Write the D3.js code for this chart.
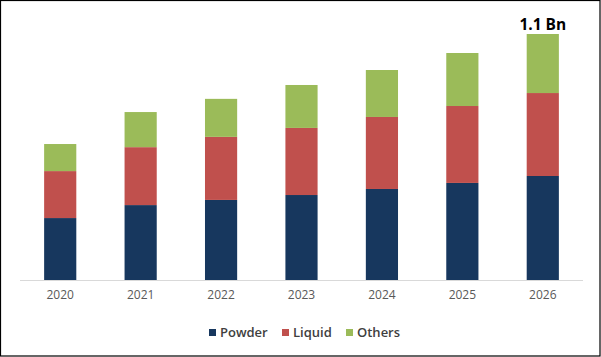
<!DOCTYPE html>
<html><head><meta charset="utf-8">
<script src="https://cdn.jsdelivr.net/npm/d3@7"></script>
<style>html,body{margin:0;padding:0;background:#fff;}svg{display:block;}</style>
</head><body>
<script>
const years = ["2020","2021","2022","2023","2024","2025","2026"];
const seriesNames = ["Powder","Liquid","Others"];
const powder = [277,335,358,380,407,434,465];
const liquid = [210,259,282,300,322,344,371];
const others = [121,157,170,192,210,237,264];
const colors = ["#17375e","#c0504d","#9bbb59"];
const topLabel = "1.1 Bn";

const W = 601, H = 357;
const svg = d3.select("body").append("svg").attr("width", W).attr("height", H);
svg.append("rect").attr("x",0.5).attr("y",0.5).attr("width",W-1.5).attr("height",H-1.5)
  .attr("fill","#fff").attr("stroke","#000").attr("stroke-width",1.2);

const rows = years.map((y,i)=>({year:y, Powder:powder[i], Liquid:liquid[i], Others:others[i]}));
const stack = d3.stack().keys(seriesNames)(rows);

const x = d3.scaleBand().domain(years).range([20,583]).paddingInner(0.6).paddingOuter(0.3);
const y = d3.scaleLinear().domain([0,1100]).range([280,34]);

svg.append("line").attr("x1",20).attr("x2",583).attr("y1",280.5).attr("y2",280.5)
  .attr("stroke","#d9d9d9").attr("stroke-width",1);

svg.selectAll("g.s").data(stack).join("g").attr("class","s")
  .attr("fill",(d,i)=>colors[i])
  .selectAll("rect").data(d=>d).join("rect")
  .attr("x",d=>x(d.data.year)).attr("width",x.bandwidth())
  .attr("y",d=>y(d[1])).attr("height",d=>y(d[0])-y(d[1]));

const xAxis = d3.axisBottom(x).tickSize(0).tickPadding(10);
const ga = svg.append("g").attr("transform","translate(0,280)").call(xAxis);
ga.select(".domain").remove();
ga.selectAll("text").attr("font-family","'Open Sans', sans-serif").attr("font-size",12).attr("fill","#595959");

const last = stack[stack.length-1][years.length-1];
svg.append("text").attr("x",x(years[years.length-1])+x.bandwidth()/2).attr("y",y(last[1])-4)
  .attr("text-anchor","middle").attr("font-family","'Open Sans', sans-serif")
  .attr("font-weight","bold").attr("font-size",15.5).attr("fill","#000").text(topLabel);

const legX = [209,282,346];
const lg = svg.append("g");
seriesNames.forEach((n,i)=>{
  lg.append("rect").attr("x",legX[i]).attr("y",329).attr("width",7).attr("height",7).attr("fill",colors[i]);
  lg.append("text").attr("x",legX[i]+11).attr("y",337).attr("font-family","'Open Sans', sans-serif")
    .attr("font-size",13).attr("font-weight",600).attr("fill","#404040").text(n);
});
</script>
</body></html>
